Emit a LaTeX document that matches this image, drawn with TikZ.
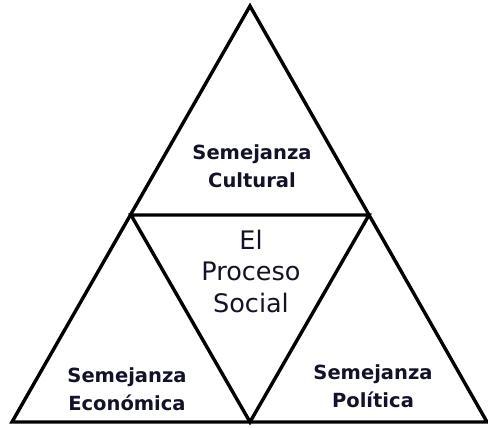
\documentclass[tikz,border=0pt]{standalone}
\usepackage{fontspec}
\setmainfont{DejaVu Sans}
\definecolor{txt}{HTML}{121228}
\tikzset{
  edge/.style={line width=3.4pt, line join=miter, black},
  lbl/.style={align=center, text=txt, font=\bfseries\fontsize{19.5}{27.5}\selectfont, inner sep=0pt},
  ctr/.style={align=center, text=txt, font=\fontsize{25.5}{31.5}\selectfont, inner sep=0pt}
}
\begin{document}
\begin{tikzpicture}[x=1pt,y=-1pt]
\useasboundingbox (0,0) rectangle (488,428);
\coordinate (A) at (250,6);
\coordinate (BL) at (12,422);
\coordinate (BR) at (487,422);
\coordinate (ML) at (131,215);
\coordinate (MR) at (369,215);
\coordinate (MB) at (250,422);
\draw[edge] (A) -- (BR) -- (BL) -- cycle;
\draw[edge] (ML) -- (MR) -- (MB) -- cycle;
\node[lbl] (cul) at (252,166) {Semejanza\\Cultural};
\node[lbl] (eco) at (127,389) {Semejanza\\Económica};
\node[lbl] (pol) at (373,386) {Semejanza\\Política};
\node[ctr] (soc) at (251,271) {El\\Proceso\\Social};
\end{tikzpicture}
\end{document}
